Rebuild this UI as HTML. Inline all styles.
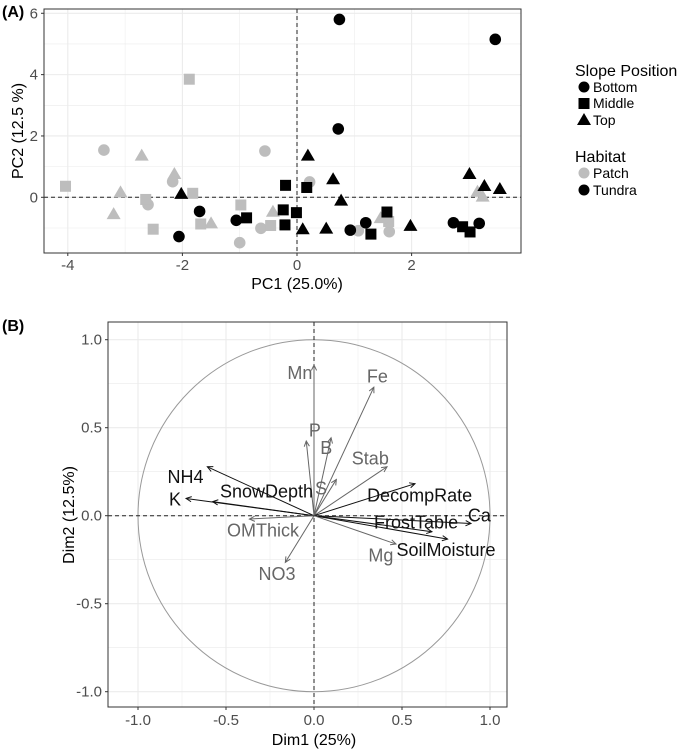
<!DOCTYPE html>
<html><head><meta charset="utf-8"><style>
html,body{margin:0;padding:0;background:#fff}
svg{display:block;font-family:"Liberation Sans",Arial,sans-serif}
</style></head><body>
<svg id="chart" width="685" height="752" viewBox="0 0 685 752" xmlns="http://www.w3.org/2000/svg"></svg>
<script>
// ---------- Panel A data ----------
const bottomTundraX=[0.74,3.46,0.72,-1.70,-1.06,-2.06,0.93,1.20,2.73,3.18];
const bottomTundraY=[5.80,5.15,2.23,-0.46,-0.75,-1.28,-1.07,-0.83,-0.83,-0.85];
const bottomPatchX=[-3.37,-2.17,-2.60,-0.56,0.22,-0.63,-1.0,1.07,1.61];
const bottomPatchY=[1.54,0.51,-0.24,1.51,0.50,-1.01,-1.48,-1.09,-1.12];
const middleTundraX=[-0.20,0.17,-0.88,-0.24,-0.01,-0.21,1.29,1.57,2.89,3.02];
const middleTundraY=[0.39,0.32,-0.67,-0.41,-0.50,-0.90,-1.20,-0.48,-0.96,-1.13];
const middlePatchX=[-1.88,-4.04,-2.64,-1.82,-2.51,-0.98,-1.68,-0.46,1.60];
const middlePatchY=[3.85,0.36,-0.07,0.13,-1.04,-0.25,-0.87,-0.92,-0.79];
const topTundraX=[-2.02,0.19,0.63,0.77,0.10,0.51,1.98,3.01,3.27,3.54];
const topTundraY=[0.11,1.36,0.59,-0.11,-1.04,-1.02,-0.93,0.76,0.37,0.27];
const topPatchX=[-2.71,-3.08,-3.20,-2.14,-1.50,-0.42,1.46,3.15,3.24];
const topPatchY=[1.36,0.16,-0.55,0.76,-0.85,-0.47,-0.68,0.18,0.02];
const aXTicks=[-4,-2,0,2];
const aYTicks=[0,2,4,6];
// ---------- Panel B data ----------
const varNames=["Mn","Fe","P","B","Stab","S","DecompRate","NH4","K","SnowDepth","OMThick","NO3","Ca","FrostTable","SoilMoisture","Mg"];
const varDim1=[0,0.34,-0.044,0.097,0.415,0.127,0.574,-0.606,-0.727,-0.576,-0.367,-0.163,0.892,0.670,0.759,0.466];
const varDim2=[0.856,0.73,0.424,0.443,0.278,0.206,0.182,0.278,0.098,0.080,-0.019,-0.265,-0.044,-0.091,-0.133,-0.161];
const varDark=[0,0,0,0,0,0,1,1,1,1,0,0,1,1,1,0];
const labelDim1=[-0.08,0.36,0.005,0.07,0.32,0.04,0.60,-0.73,-0.79,-0.27,-0.29,-0.21,0.94,0.58,0.75,0.38];
const labelDim2=[0.81,0.79,0.485,0.385,0.325,0.155,0.115,0.22,0.093,0.137,-0.085,-0.33,0.0,-0.038,-0.195,-0.225];
const bTicks=[-1.0,-0.5,0.0,0.5,1.0];
const bTickLabels=["-1.0","-0.5","0.0","0.5","1.0"];

const svg=document.getElementById('chart');
const NS="http://www.w3.org/2000/svg";
function mk(tag,attrs,parent){const e=document.createElementNS(NS,tag);for(const k in attrs)e.setAttribute(k,attrs[k]);(parent||svg).appendChild(e);return e;}
function txt(s,attrs,parent){const e=mk('text',attrs,parent);e.textContent=s;return e;}

// ===== Panel A =====
const A={l:44,r:521,t:9,b:253};
const ax=v=>297+v*57.3;
const ay=v=>197.3-v*30.67;
const gA=mk('g',{});


txt('(A)',{x:2,y:17,'font-size':16,'font-weight':'bold',fill:'#000'},gA);
mk('rect',{x:A.l,y:A.t,width:A.r-A.l,height:A.b-A.t,fill:'#fff'},gA);
for(let v=-5;v<=4;v++){const x=ax(v);if(x<A.l||x>A.r)continue;mk('line',{x1:x,x2:x,y1:A.t,y2:A.b,stroke:'#ebebeb','stroke-width':v%2===0?1.1:0.55},gA);}
for(let v=-1;v<=6;v++){const y=ay(v);if(y<A.t||y>A.b)continue;mk('line',{x1:A.l,x2:A.r,y1:y,y2:y,stroke:'#ebebeb','stroke-width':v%2===0?1.1:0.55},gA);}
mk('line',{x1:A.l,x2:A.r,y1:ay(0),y2:ay(0),stroke:'#222','stroke-dasharray':'4,3','stroke-width':1},gA);
mk('line',{x1:ax(0),x2:ax(0),y1:A.t,y2:A.b,stroke:'#222','stroke-dasharray':'4,3','stroke-width':1},gA);
function circ(x,y,c,p){const e=mk('circle',{cx:ax(x),cy:ay(y),r:5.8,fill:c},p);return e;}
function sq(x,y,c,p){return mk('rect',{x:ax(x)-5.5,y:ay(y)-5.5,width:11,height:11,fill:c},p);}
function tri(x,y,c,p){const X=ax(x),Y=ay(y);return mk('polygon',{points:`${X},${Y-7} ${X-7},${Y+5} ${X+7},${Y+5}`,fill:c},p);}
const grey='#bdbdbd';
const series=[[bottomPatchX,bottomPatchY,circ,grey,'point-bottom-patch'],[middlePatchX,middlePatchY,sq,grey,'point-middle-patch'],[topPatchX,topPatchY,tri,grey,'point-top-patch'],
[bottomTundraX,bottomTundraY,circ,'#000','point-bottom-tundra'],[middleTundraX,middleTundraY,sq,'#000','point-middle-tundra'],[topTundraX,topTundraY,tri,'#000','point-top-tundra']];
for(const [xs,ys,f,c,n] of series){for(let i=0;i<xs.length;i++){const e=f(xs[i],ys[i],c,gA);

}}
mk('rect',{x:A.l,y:A.t,width:A.r-A.l,height:A.b-A.t,fill:'none',stroke:'#333','stroke-width':1},gA);
for(const t of aXTicks){mk('line',{x1:ax(t),x2:ax(t),y1:A.b,y2:A.b+3,stroke:'#333'},gA);txt(String(t),{x:ax(t),y:A.b+17,'font-size':15,fill:'#4d4d4d','text-anchor':'middle'},gA);}
for(const t of aYTicks){mk('line',{x1:A.l-3,x2:A.l,y1:ay(t),y2:ay(t),stroke:'#333'},gA);txt(String(t),{x:A.l-6,y:ay(t)+5,'font-size':15,fill:'#4d4d4d','text-anchor':'end'},gA);}
const axt=txt('PC1 (25.0%)',{x:297,y:289,'font-size':16,fill:'#000','text-anchor':'middle'},gA);

const ayt=txt('PC2 (12.5 %)',{x:0,y:0,'font-size':16,fill:'#000','text-anchor':'middle',transform:`translate(23,131) rotate(-90)`},gA);

// legend
const lg=mk('g',{},gA);
txt('Slope Position',{x:575,y:76,'font-size':16,fill:'#000'},lg);
mk('circle',{cx:584,cy:87,r:5.5,fill:'#000'},lg);txt('Bottom',{x:593,y:92,'font-size':14,fill:'#000'},lg);
mk('rect',{x:578.5,y:98,width:11,height:11,fill:'#000'},lg);txt('Middle',{x:593,y:108,'font-size':14,fill:'#000'},lg);
mk('polygon',{points:'584,113 577,125 591,125',fill:'#000'},lg);txt('Top',{x:593,y:125,'font-size':14,fill:'#000'},lg);
txt('Habitat',{x:575,y:162,'font-size':16,fill:'#000'},lg);
mk('circle',{cx:584,cy:173,r:5.5,fill:grey},lg);txt('Patch',{x:593,y:178,'font-size':14,fill:'#000'},lg);
mk('circle',{cx:584,cy:190,r:5.5,fill:'#000'},lg);txt('Tundra',{x:593,y:195,'font-size':14,fill:'#000'},lg);

// ===== Panel B =====
const B={l:108,r:507,t:322,b:707};
const bx=v=>314+v*176;
const by=v=>515.7-v*176;
const gB=mk('g',{});


txt('(B)',{x:2,y:331,'font-size':16,'font-weight':'bold',fill:'#000'},gB);
for(let v=-1.25;v<=1.26;v+=0.25){const major=Math.abs(v*2-Math.round(v*2))<1e-6;const x=bx(v),y=by(v);
if(x>B.l&&x<B.r)mk('line',{x1:x,x2:x,y1:B.t,y2:B.b,stroke:'#ebebeb','stroke-width':major?1.1:0.55},gB);
if(y>B.t&&y<B.b)mk('line',{x1:B.l,x2:B.r,y1:y,y2:y,stroke:'#ebebeb','stroke-width':major?1.1:0.55},gB);}
const circle=mk('circle',{cx:bx(0),cy:by(0),r:176,fill:'none',stroke:'#999','stroke-width':1},gB);

mk('line',{x1:B.l,x2:B.r,y1:by(0),y2:by(0),stroke:'#222','stroke-dasharray':'4,3'},gB);
mk('line',{x1:bx(0),x2:bx(0),y1:B.t,y2:B.b,stroke:'#222','stroke-dasharray':'4,3'},gB);
for(let i=0;i<varNames.length;i++){
  const c=varDark[i]?'#111':'#666';
  const x1=bx(0),y1=by(0),x2=bx(varDim1[i]),y2=by(varDim2[i]);
  const ang=Math.atan2(y2-y1,x2-x1),h=6;
  const g=mk('g',{},gB);
  
  
  mk('line',{x1,y1,x2,y2,stroke:c,'stroke-width':1},g);
  mk('polyline',{points:`${x2-h*Math.cos(ang-0.45)},${y2-h*Math.sin(ang-0.45)} ${x2},${y2} ${x2-h*Math.cos(ang+0.45)},${y2-h*Math.sin(ang+0.45)}`,fill:'none',stroke:c,'stroke-width':1},g);
  const t=txt(varNames[i],{x:bx(labelDim1[i]),y:by(labelDim2[i])+6,'font-size':18,fill:c,'text-anchor':'middle'},gB);
  
  
}
mk('rect',{x:B.l,y:B.t,width:B.r-B.l,height:B.b-B.t,fill:'none',stroke:'#333','stroke-width':1},gB);
for(let i=0;i<bTicks.length;i++){const t=bTicks[i];
  mk('line',{x1:bx(t),x2:bx(t),y1:B.b,y2:B.b+3,stroke:'#333'},gB);
  txt(bTickLabels[i],{x:bx(t),y:B.b+18,'font-size':15,fill:'#4d4d4d','text-anchor':'middle'},gB);
  mk('line',{x1:B.l-3,x2:B.l,y1:by(t),y2:by(t),stroke:'#333'},gB);
  txt(bTickLabels[i],{x:B.l-6,y:by(t)+5,'font-size':15,fill:'#4d4d4d','text-anchor':'end'},gB);}
const bxt=txt('Dim1 (25%)',{x:bx(0),y:745,'font-size':16,fill:'#000','text-anchor':'middle'},gB);

const byt=txt('Dim2 (12.5%)',{x:0,y:0,'font-size':16,fill:'#000','text-anchor':'middle',transform:`translate(74,515) rotate(-90)`},gB);

</script>
</body></html>
